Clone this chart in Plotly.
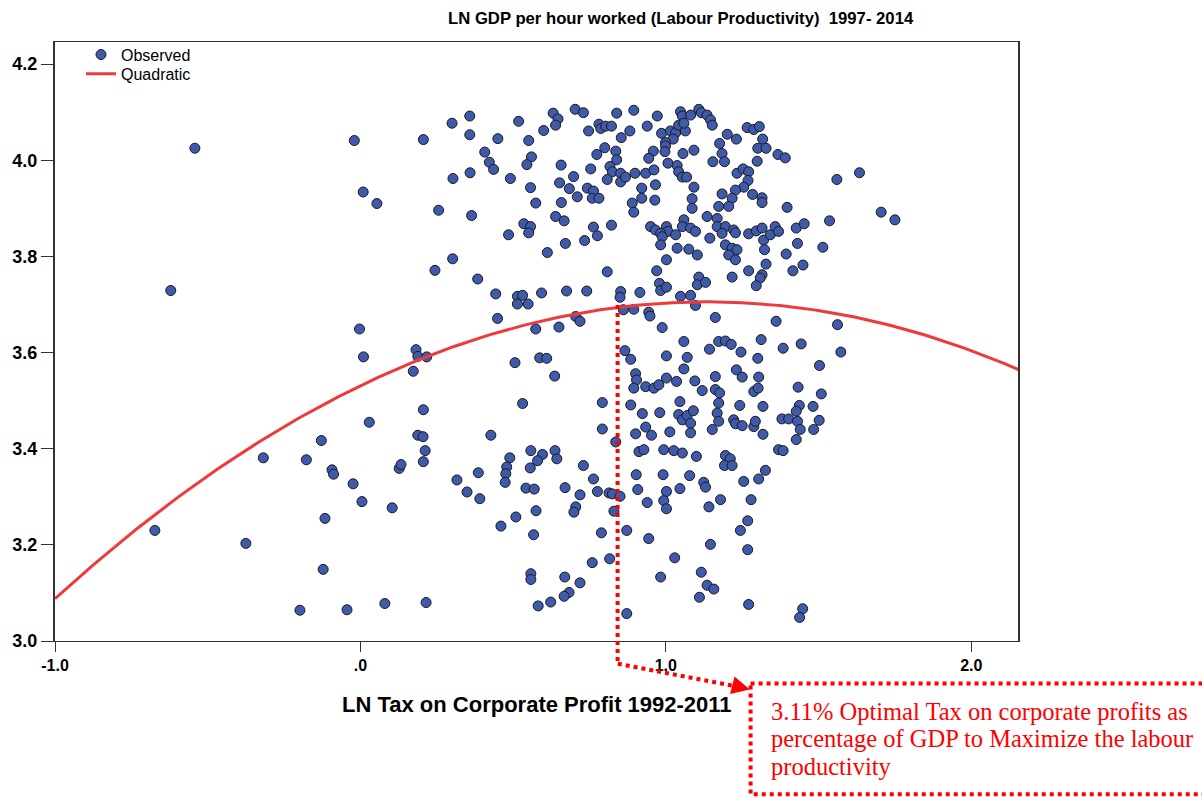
import numpy as np
import plotly.graph_objects as go

# ---------------- Observed points (LN Tax on Corporate Profit, LN GDP per hour) ----------------
left_x = [-0.542, -0.621, -0.673, -0.375, -0.318, -0.198, -0.177, -0.128, -0.116, -0.122,
          -0.093, -0.088, -0.044, -0.024, -0.020, -0.003, 0.010, 0.005, 0.009, 0.054,
          0.029, 0.080, 0.104, 0.127, 0.133, 0.173, 0.182, 0.188, 0.217, 0.188,
          0.205, 0.206, 0.212, 0.206, 0.215, 0.206, 0.244, 0.256]
left_y = [4.025, 3.729, 3.230, 3.203, 3.381, 3.064, 3.377, 3.417, 3.255, 3.149,
          3.356, 3.347, 3.065, 3.327, 4.041, 3.649, 3.591, 3.290, 3.934, 3.910,
          3.455, 3.078, 3.277, 3.359, 3.367, 3.561, 3.606, 3.592, 3.591, 3.428,
          3.425, 3.481, 3.396, 3.373, 3.080, 4.043, 3.771, 3.896]

upleft_x = [0.300, 0.358, 0.358, 0.518, 0.450, 0.551, 0.600, 0.631, 0.647, 0.639,
            0.703, 0.407, 0.422, 0.436, 0.560, 0.545, 0.303, 0.359, 0.491, 0.557,
            0.657, 0.652, 0.698, 0.684, 0.710, 0.364, 0.574, 0.658, 0.639, 0.667,
            0.535, 0.557, 0.551, 0.485, 0.671, 0.612, 0.302]
upleft_y = [4.077, 4.092, 4.053, 4.081, 4.045, 4.041, 4.062, 4.098, 4.086, 4.073,
            4.106, 4.017, 3.996, 3.981, 4.007, 3.991, 3.962, 3.974, 3.962, 3.943,
            3.990, 3.953, 3.966, 3.941, 3.924, 3.885, 3.911, 3.912, 3.883, 3.874,
            3.868, 3.862, 3.849, 3.845, 3.827, 3.808, 3.795]

upmid_x = [0.730, 0.839, 0.895, 0.972, 1.048, 1.054, 1.081, 1.108, 1.116, 1.135, 1.146, 1.152,
           0.747, 0.781, 0.787, 0.803, 0.822, 0.882, 0.854, 0.939, 0.986, 1.015, 1.032, 1.042,
           1.064, 1.059, 1.024, 0.999,
           0.774, 0.800, 0.836, 0.839, 0.959, 0.944, 0.999, 0.997, 1.056, 1.092, 1.154, 1.176,
           0.754, 0.817, 0.825, 0.852, 0.808, 0.852, 0.868, 0.899, 0.934, 0.961, 1.007, 1.037,
           1.042, 1.054, 1.068, 0.921, 0.966, 1.092,
           0.743, 0.763, 0.759, 0.781, 0.921, 0.964, 0.890, 0.895, 1.086, 1.086, 1.173,
           0.822, 0.763, 0.776, 0.734, 0.950, 0.966, 1.002, 1.007, 0.983, 0.988, 1.032, 1.059,
           1.054, 1.081, 1.097, 1.135, 1.168, 1.144, 1.168, 0.983, 1.037, 1.075, 1.103, 1.002]
upmid_y = [4.099, 4.098, 4.104, 4.092, 4.101, 4.092, 4.094, 4.106, 4.099, 4.094, 4.084, 4.073,
           4.061, 4.075, 4.066, 4.071, 4.071, 4.061, 4.047, 4.071, 4.056, 4.061, 4.057, 4.073,
           4.061, 4.077, 4.044, 4.037,
           4.012, 4.026, 4.019, 4.001, 4.019, 4.004, 4.030, 4.018, 4.014, 4.021, 3.997, 4.035,
           3.982, 3.987, 3.976, 3.973, 3.960, 3.955, 3.965, 3.973, 3.973, 3.980, 3.994, 3.989,
           3.976, 3.965, 3.965, 3.942, 3.949, 3.944,
           3.942, 3.936, 3.921, 3.921, 3.921, 3.917, 3.911, 3.892, 3.920, 3.900, 3.904,
           3.865, 3.861, 3.843, 3.833, 3.862, 3.855, 3.862, 3.852, 3.848, 3.841, 3.845, 3.876,
           3.862, 3.859, 3.852, 3.883, 3.879, 3.838, 3.862, 3.824, 3.817, 3.815, 3.803, 3.793]

upright_x = [1.266, 1.288, 1.306, 1.201, 1.231, 1.317, 1.301, 1.328, 1.367, 1.391,
             1.184, 1.192, 1.299, 1.233, 1.253, 1.271, 1.269, 1.255, 1.228, 1.560,
             1.634, 1.184, 1.217, 1.284, 1.315, 1.315, 1.206, 1.397, 1.536, 1.195,
             1.222, 1.228, 1.184, 1.271, 1.296, 1.315, 1.320, 1.342, 1.358, 1.369,
             1.427, 1.453, 1.431, 1.195, 1.217, 1.233, 1.206, 1.228, 1.323, 1.394,
             1.514, 1.328, 1.449, 1.705, 1.750]
upright_y = [4.068, 4.064, 4.070, 4.054, 4.044, 4.044, 4.025, 4.025, 4.012, 4.005,
             4.014, 3.997, 3.998, 3.973, 3.982, 3.976, 3.958, 3.944, 3.938, 3.960,
             3.974, 3.930, 3.921, 3.929, 3.922, 3.912, 3.904, 3.902, 3.874, 3.862,
             3.855, 3.849, 3.848, 3.847, 3.853, 3.859, 3.834, 3.845, 3.862, 3.852,
             3.859, 3.868, 3.827, 3.824, 3.817, 3.814, 3.803, 3.793, 3.814, 3.805,
             3.819, 3.784, 3.782, 3.892, 3.876]

midleft_x = [0.384, 0.443, 0.514, 0.531, 0.514, 0.549, 0.593, 0.675, 0.449, 0.574,
             0.650, 0.705, 0.719, 0.506, 0.587, 0.610, 0.636, 0.531, 0.427]
midleft_y = [3.753, 3.722, 3.717, 3.719, 3.701, 3.701, 3.724, 3.728, 3.671, 3.649,
             3.653, 3.675, 3.665, 3.579, 3.589, 3.588, 3.551, 3.494, 3.428]

midmid_x = [0.808, 0.970, 0.741, 0.852, 0.850, 0.915, 0.979, 0.983, 1.002, 1.048,
            1.081, 1.108, 1.103, 1.130, 1.097, 0.861, 0.895, 0.944, 0.948, 1.162,
            0.988, 1.059, 0.866, 0.885, 1.002, 1.070, 1.143, 1.173, 1.059, 0.901,
            0.904, 0.895, 0.934, 0.961, 0.977, 1.002, 1.035, 1.095, 1.119, 1.162,
            1.162, 1.176, 0.792, 0.885, 0.923, 0.980, 1.046, 1.173, 1.042, 1.054,
            1.070, 1.090, 1.081, 1.168, 1.173, 0.792, 0.934, 0.953, 0.901, 1.013,
            1.081, 1.152, 0.836]
midmid_y = [3.768, 3.770, 3.728, 3.727, 3.715, 3.725, 3.744, 3.729, 3.736, 3.717,
            3.719, 3.757, 3.741, 3.746, 3.698, 3.689, 3.690, 3.684, 3.676, 3.673,
            3.652, 3.623, 3.604, 3.586, 3.593, 3.590, 3.607, 3.623, 3.566, 3.556,
            3.543, 3.526, 3.529, 3.526, 3.533, 3.547, 3.540, 3.541, 3.521, 3.550,
            3.523, 3.516, 3.496, 3.491, 3.473, 3.475, 3.498, 3.495, 3.471, 3.460,
            3.469, 3.479, 3.453, 3.474, 3.457, 3.441, 3.445, 3.428, 3.431, 3.435,
            3.433, 3.440, 3.414]

midright_x = [1.217, 1.271, 1.315, 1.309, 1.296, 1.416, 1.361, 1.562, 1.195, 1.214,
              1.246, 1.312, 1.384, 1.443, 1.301, 1.573, 1.503, 1.231, 1.250, 1.304,
              1.288, 1.302, 1.433, 1.509, 1.242, 1.318, 1.437, 1.427, 1.482, 1.222,
              1.228, 1.250, 1.288, 1.293, 1.380, 1.402, 1.431, 1.440, 1.484, 1.502,
              1.318, 1.427]
midright_y = [3.757, 3.770, 3.762, 3.755, 3.739, 3.770, 3.665, 3.658, 3.624, 3.617,
              3.601, 3.627, 3.609, 3.618, 3.588, 3.601, 3.573, 3.564, 3.549, 3.549,
              3.519, 3.526, 3.528, 3.514, 3.490, 3.488, 3.490, 3.478, 3.488, 3.460,
              3.452, 3.448, 3.446, 3.457, 3.462, 3.462, 3.457, 3.440, 3.440, 3.459,
              3.430, 3.419]

lowleft_x = [0.489, 0.558, 0.596, 0.580, 0.556, 0.637, 0.643, 0.479, 0.476, 0.474,
             0.386, 0.316, 0.349, 0.391, 0.542, 0.569, 0.670, 0.719, 0.575, 0.509,
             0.460, 0.567, 0.705, 0.699, 0.558, 0.558, 0.669, 0.719, 0.683, 0.667,
             0.623, 0.582]
lowleft_y = [3.381, 3.396, 3.388, 3.375, 3.360, 3.396, 3.379, 3.362, 3.348, 3.330,
             3.350, 3.335, 3.310, 3.296, 3.318, 3.316, 3.319, 3.304, 3.271, 3.258,
             3.239, 3.221, 3.279, 3.268, 3.140, 3.128, 3.133, 3.121, 3.101, 3.093,
             3.081, 3.073]

lowmid_x = [0.912, 0.928, 0.993, 1.026, 1.054, 1.100, 0.730, 0.763, 0.903, 0.991,
            1.078, 1.124, 1.130, 0.776, 0.814, 0.825, 0.850, 0.908, 1.002, 1.046,
            0.993, 1.002, 0.939, 1.141, 0.830, 0.789, 0.872, 0.944, 1.146, 0.759,
            0.816, 1.029, 1.116, 0.983, 1.135, 1.157, 1.110, 0.872]
lowmid_y = [3.394, 3.398, 3.398, 3.396, 3.391, 3.384, 3.365, 3.337, 3.346, 3.346,
            3.344, 3.330, 3.320, 3.311, 3.308, 3.306, 3.301, 3.315, 3.311, 3.317,
            3.292, 3.275, 3.288, 3.279, 3.270, 3.225, 3.230, 3.213, 3.201, 3.163,
            3.171, 3.173, 3.143, 3.133, 3.116, 3.108, 3.091, 3.057]

lowright_x = [1.369, 1.384, 1.195, 1.211, 1.192, 1.217, 1.326, 1.304, 1.255, 1.179,
              1.279, 1.268, 1.244, 1.268, 1.271, 1.448, 1.438]
lowright_y = [3.398, 3.396, 3.386, 3.379, 3.365, 3.365, 3.355, 3.337, 3.332, 3.294,
              3.294, 3.250, 3.230, 3.190, 3.076, 3.067, 3.049]

obs_x = (left_x + upleft_x + upmid_x + upright_x + midleft_x + midmid_x + midright_x
         + lowleft_x + lowmid_x + lowright_x)
obs_y = (left_y + upleft_y + upmid_y + upright_y + midleft_y + midmid_y + midright_y
         + lowleft_y + lowmid_y + lowright_y)

# ---------------- Quadratic fit (coefficients) ----------------
quad_b0, quad_b1, quad_b2 = 3.531, 0.3075, -0.1355
curve_x = np.linspace(-1.0, 2.16, 240)
curve_y = quad_b0 + quad_b1 * curve_x + quad_b2 * curve_x ** 2

x_tickvals = [-1.0, 0.0, 1.0, 2.0]
x_ticktext = ["-1.0", ".0", "1.0", "2.0"]
y_tickvals = [3.0, 3.2, 3.4, 3.6, 3.8, 4.0, 4.2]
y_ticktext = ["3.0", "3.2", "3.4", "3.6", "3.8", "4.0", "4.2"]

title_text = "LN GDP per hour worked (Labour Productivity)  1997- 2014"
xtitle_text = "LN Tax on Corporate Profit 1992-2011"
note_lines = ["3.11% Optimal Tax on corporate profits as",
              "percentage of GDP to Maximize the labour",
              "productivity"]
guide_x = 0.842          # x position of the red dotted guide
guide_top_y = 3.699      # where the guide meets the curve

SANS = "Liberation Sans, Arial, sans-serif"
SERIF = "Liberation Serif, Times New Roman, serif"
RED = "#ff0000"

fig = go.Figure()
fig.add_trace(go.Scatter(
    x=obs_x, y=obs_y, mode="markers", name="Observed", legend="legend",
    marker=dict(size=10, color="#3f5aab", line=dict(color="#1a1a1a", width=1)),
))
fig.add_trace(go.Scatter(
    x=curve_x, y=curve_y, mode="lines", name="Quadratic", legend="legend2",
    line=dict(color="#ee3a3a", width=3),
))

y_lo, y_hi = 3.0, 4.246
x_lo, x_hi = -1.0, 2.153

legend_common = dict(x=0.027, xanchor="left", yanchor="top",
                     bgcolor="rgba(0,0,0,0)", font=dict(size=16, family=SANS),
                     itemwidth=30)

fig.update_layout(
    width=1202, height=798,
    margin=dict(l=53, r=184, t=42, b=157, pad=0),
    paper_bgcolor="white", plot_bgcolor="white",
    font=dict(family=SANS, color="black"),
    showlegend=True,
    legend=dict(y=1.0073, **legend_common),
    legend2=dict(y=0.9753, **legend_common),
    xaxis=dict(range=[x_lo, x_hi], tickvals=x_tickvals, ticktext=x_ticktext,
               showline=True, linecolor="#333333", linewidth=1, mirror=True,
               ticks="outside", ticklen=10, tickcolor="#333333", tickwidth=1,
               tickfont=dict(size=16, family=SANS, weight="bold"),
               showgrid=False, zeroline=False),
    yaxis=dict(range=[y_lo, y_hi], tickvals=y_tickvals, ticktext=y_ticktext,
               showline=True, linecolor="#333333", linewidth=2, mirror=True,
               ticks="outside", ticklen=12, tickcolor="#333333", tickwidth=1,
               tickfont=dict(size=18, family=SANS, weight="bold"),
               showgrid=False, zeroline=False),
)

def py(v):
    return (v - y_lo) / (y_hi - y_lo)

# title and x-axis title
fig.add_annotation(text=title_text, xref="paper", yref="paper", x=0.65, y=1.04,
                   xanchor="center", yanchor="middle", showarrow=False,
                   font=dict(size=16.7, family=SANS, weight="bold"))
fig.add_annotation(text=xtitle_text, xref="paper", yref="paper", x=0.5, y=-0.106,
                   xanchor="center", yanchor="middle", showarrow=False,
                   font=dict(size=22, family=SANS, weight="bold"))

# red dotted guide: vertical from curve, then towards the note box
fig.add_shape(type="line", xref="x", yref="paper", x0=guide_x, x1=guide_x,
              y0=py(guide_top_y), y1=-0.038,
              line=dict(color=RED, width=4, dash="dot"))
fig.add_shape(type="line", xref="paper", yref="paper",
              x0=(617 - 53) / 965, y0=-0.038, x1=0.712, y1=-0.077,
              line=dict(color=RED, width=4, dash="dot"))
fig.add_annotation(xref="paper", yref="paper", x=0.7215, y=-0.081,
                   ax=-8, ay=-2, text="", showarrow=True, arrowhead=2,
                   arrowsize=1.2, arrowwidth=3, arrowcolor=RED)
# note box
fig.add_shape(type="rect", xref="paper", yref="paper",
              x0=0.7223, x1=1.25, y0=-0.071, y1=-0.256,
              line=dict(color=RED, width=4, dash="dot"))
for i, line in enumerate(note_lines):
    fig.add_annotation(text=line, xref="paper", yref="paper",
                       x=(768 - 53) / 965, y=(641.5 - (712 + 27.5 * i)) / 599.5,
                       xanchor="left", yanchor="middle", showarrow=False,
                       font=dict(size=24.5, family=SERIF, color=RED))

fig.write_html("out.html", config={"displayModeBar": False},
               post_script="document.body.style.margin='0';")
